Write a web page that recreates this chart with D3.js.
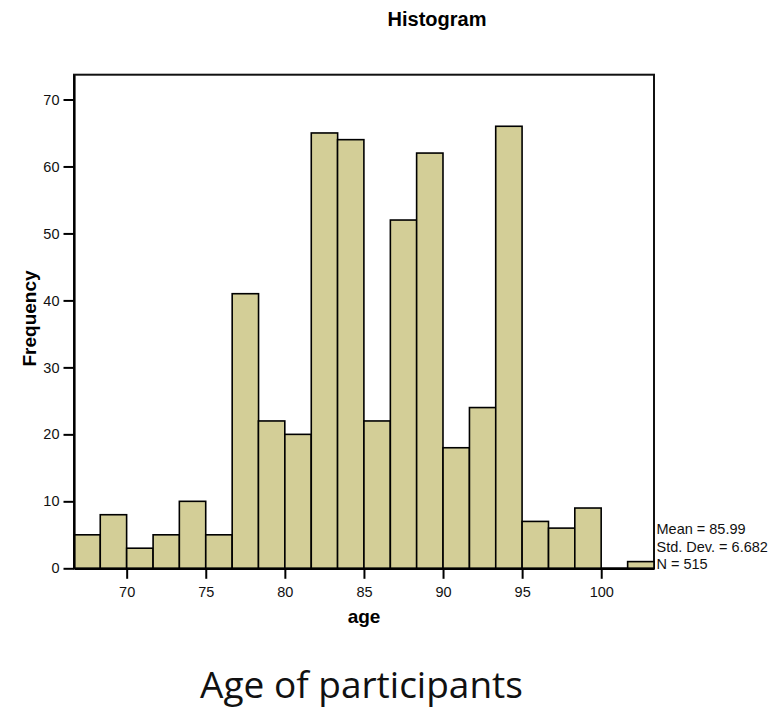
<!DOCTYPE html>
<html>
<head>
<meta charset="utf-8">
<script src="https://cdn.jsdelivr.net/npm/d3@7"></script>
<style>
  body { margin: 0; background: #fff; }
  text { font-family: "Liberation Sans", Arial, sans-serif; }
</style>
</head>
<body>
<div id="vis"></div>
<script>
// age bins (lower edge), bin width is 5/3 year
var binStarts = [66.67, 68.33, 70, 71.67, 73.33, 75, 76.67, 78.33, 80, 81.67, 83.33,
                 85, 86.67, 88.33, 90, 91.67, 93.33, 95, 96.67, 98.33, 100, 101.67];
var counts = [5, 8, 3, 5, 10, 5, 41, 22, 20, 65, 64, 22, 52, 62, 18, 24, 66, 7, 6, 9, 0, 1];
var binWidth = 5 / 3;
var xTicks = [70, 75, 80, 85, 90, 95, 100];
var yTicks = [0, 10, 20, 30, 40, 50, 60, 70];
var stats = ["Mean = 85.99", "Std. Dev. = 6.682", "N = 515"];

var width = 780,
    height = 708;

var plotLeft = 74, plotRight = 654, plotTop = 74.7, plotBottom = 568.3;

var svg = d3.select("#vis").append("svg")
    .attr("width", width)
    .attr("height", height);

var x = d3.scaleLinear()
    .domain([binStarts[0], binStarts[binStarts.length - 1] + binWidth])
    .range([plotLeft, plotRight]);

var y = d3.scaleLinear()
    .domain([0, 73.7])
    .range([plotBottom, plotTop]);

// frame
svg.append("rect")
    .attr("x", plotLeft)
    .attr("y", plotTop)
    .attr("width", plotRight - plotLeft)
    .attr("height", plotBottom - plotTop)
    .attr("fill", "#fff")
    .attr("stroke", "#111")
    .attr("stroke-width", 2);

svg.selectAll("rect.bar")
    .data(counts)
    .enter().append("rect")
    .attr("class", "bar")
    .attr("x", function(d, i) { return x(binStarts[i]); })
    .attr("y", function(d) { return y(d); })
    .attr("width", function(d, i) { return x(binStarts[i] + binWidth) - x(binStarts[i]); })
    .attr("height", function(d) { return y(0) - y(d); })
    .attr("fill", "#d3ce97")
    .attr("stroke", "#000")
    .attr("stroke-width", 1.6);

var yAxis = svg.append("g")
    .attr("transform", "translate(" + plotLeft + ",0)")
    .call(d3.axisLeft(y).tickValues(yTicks).tickSize(10.5).tickSizeOuter(0).tickPadding(4));

var xAxis = svg.append("g")
    .attr("transform", "translate(0," + plotBottom + ")")
    .call(d3.axisBottom(x).tickValues(xTicks).tickSize(10.5).tickSizeOuter(0).tickPadding(8));

[xAxis, yAxis].forEach(function(g) {
    g.select(".domain").attr("stroke", "#000").attr("stroke-width", 2.2);
    g.selectAll(".tick line").attr("stroke", "#000").attr("stroke-width", 2);
    g.selectAll(".tick text")
        .attr("fill", "#111")
        .style("font-family", "'Liberation Sans', Arial, sans-serif")
        .style("font-size", "14.5px");
});

svg.append("text")
    .attr("x", 437)
    .attr("y", 26)
    .attr("text-anchor", "middle")
    .style("font-weight", "bold")
    .style("font-size", "20px")
    .text("Histogram");

svg.append("text")
    .attr("x", (plotLeft + plotRight) / 2)
    .attr("y", 623)
    .attr("text-anchor", "middle")
    .style("font-weight", "bold")
    .style("font-size", "19px")
    .text("age");

svg.append("text")
    .attr("transform", "translate(36," + 318.5 + ")rotate(-90)")
    .attr("text-anchor", "middle")
    .style("font-weight", "bold")
    .style("font-size", "19px")
    .text("Frequency");

svg.selectAll("text.stat")
    .data(stats)
    .enter().append("text")
    .attr("class", "stat")
    .attr("x", 656.5)
    .attr("y", function(d, i) { return 534 + i * 17.5; })
    .attr("fill", "#111")
    .style("font-size", "14.5px")
    .text(function(d) { return d; });

svg.append("text")
    .attr("x", 361.5)
    .attr("y", 698)
    .attr("text-anchor", "middle")
    .style("font-family", "'Open Sans', 'Noto Sans', sans-serif")
    .style("font-size", "37px")
    .attr("fill", "#111")
    .text("Age of participants");
</script>
</body>
</html>
